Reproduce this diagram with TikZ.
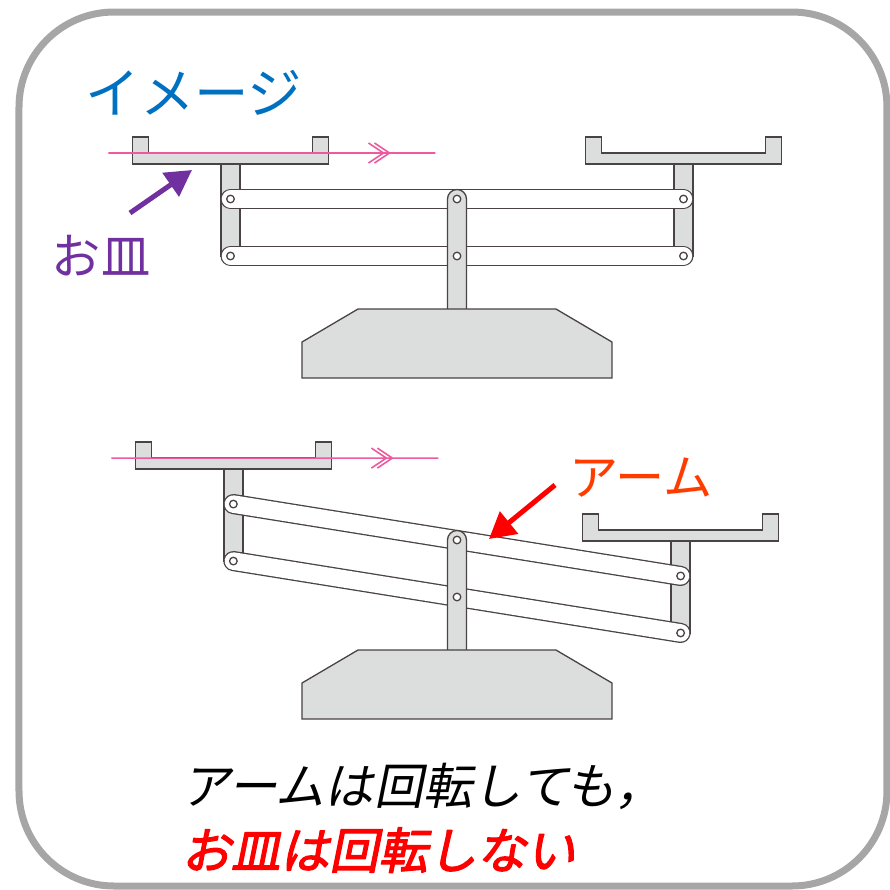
\documentclass[tikz,border=0pt]{standalone}
\usepackage{fontspec}
\newfontfamily\jp{Noto Sans CJK JP}
\newfontfamily\jpsl[FakeSlant=0.2]{Noto Sans CJK JP}
\newfontfamily\jpslb[FakeSlant=0.2,FakeBold=2.5]{Noto Sans CJK JP}
\usetikzlibrary{calc,arrows.meta}
\definecolor{partgray}{HTML}{DCDDDD}
\definecolor{edge}{HTML}{4A4343}
\definecolor{framegray}{HTML}{A6A6A6}
\definecolor{imgblue}{HTML}{0070C0}
\definecolor{dishpurple}{HTML}{7030A0}
\definecolor{armorange}{HTML}{FF3C00}
\definecolor{guidepink}{HTML}{EC5AA0}
\tikzset{
	part/.style={draw=edge,fill=partgray,line width=0.13mm,line join=miter},
	bar/.style={draw=edge,double=white,line width=0.13mm,double distance=1.75mm,line cap=round},
	pin/.style={draw=edge,fill=white,line width=0.13mm},
	guide/.style={guidepink,line width=0.16mm},
	callout/.style={-{Triangle[length=2.6mm,width=2.8mm]},line width=0.5mm},
	jptext/.style={inner sep=0pt,font=\jp\fontsize{14}{17}\selectfont}
}
\begin{document}
\begin{tikzpicture}[x=0.1mm,y=-0.1mm,line join=round]
	\useasboundingbox (0,0) rectangle (890,890);
	\draw[framegray,line width=0.7mm,rounded corners=9.5mm] (19,12) rectangle (887,886);
	\def\L{226.5} \def\h{57} % half arm, pin gap
	\foreach \py/\tilt in {199/0,540/9.13}{
		\coordinate (pu) at (457,\py);
		\coordinate (pd) at (457,\py+\h);
		\coordinate (lu) at ($(pu)+(180+\tilt:\L)$);
		\coordinate (ru) at ($(pu)+(\tilt:\L)$);
		\coordinate (ld) at ($(lu)+(0,\h)$);
		\coordinate (rd) at ($(ru)+(0,\h)$);
		% pans on their posts
		\foreach \p in {lu,ru}
			\draw[part,shift={(\p)}] (-9.5,-35) rectangle (9.5,\h)
				(-98,-62) -- (-82,-62) -- (-82,-46) -- (82,-46) -- (82,-62) -- (98,-62) -- (98,-35) -- (-98,-35) -- cycle;
		\draw[bar] (lu) -- (ru);
		\draw[bar] (ld) -- (rd);
		% centre post and base
		\draw[part,shift={(pu)}] (-9.5,110) -- (-9.5,0) arc (180:360:9.5) -- (9.5,110);
		\draw[part,shift={(pu)}] (-99,110) -- (99,110) -- (155,143) -- (155,179) -- (-155,179) -- (-155,143) -- cycle;
		\foreach \p in {lu,ld,pu,pd,ru,rd}
			\draw[pin] (\p) circle (3.8);
		% level guide
		\draw[guide,shift={(lu)}] (-122,-46) -- (205,-46)
			(138,-56) -- (153,-46) -- (138,-36) (144,-56) -- (159,-46) -- (144,-36);
	}
	\node[jptext,imgblue,font=\jp\fontsize{15.5}{18}\selectfont] (image) at (194,93) {イメージ};
	\node[jptext,dishpurple] (dish) at (101,256) {お皿};
	\coordinate (dishtail) at (130,213);
	\coordinate (dishtip) at (192,170);
	\draw[callout,dishpurple] (dishtail) -- (dishtip);
	\node[jptext,armorange] (arm) at (641,478) {アーム};
	\coordinate (armtail) at (555,485);
	\coordinate (armtip) at (489,539);
	\draw[callout,red] (armtail) -- (armtip);
	\node[jptext,anchor=west,font=\jpsl\fontsize{14}{17}\selectfont] (note) at (181,786) {アームは回転しても，};
	\node[jptext,anchor=west,red,font=\jpslb\fontsize{14}{17}\selectfont] (point) at (181,850) {お皿は回転しない};
\end{tikzpicture}
\end{document}
